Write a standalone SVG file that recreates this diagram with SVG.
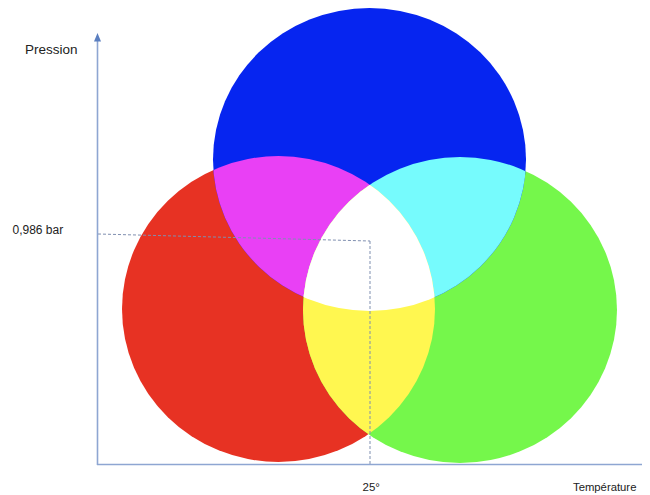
<svg xmlns="http://www.w3.org/2000/svg" width="650" height="495" viewBox="0 0 650 495">
<style>
.lbl{font-family:"Liberation Sans",Arial,sans-serif;fill:#222;}
.axis{stroke:#8EA6D2;stroke-width:1.6;fill:none;}
.dash{stroke:#7F8FB0;stroke-width:1;stroke-dasharray:3,2;fill:none;}
</style>
<defs>
<clipPath id="cRed"><ellipse cx="278.5" cy="309" rx="156.5" ry="153"/></clipPath>
<clipPath id="cGreen"><ellipse cx="460" cy="310" rx="157" ry="153"/></clipPath>
<clipPath id="cBlue"><ellipse cx="369.5" cy="159.5" rx="156.5" ry="151.5"/></clipPath>
</defs>
<rect width="650" height="495" fill="#fff"/>
<g id="circles">
<g id="red"><ellipse cx="278.5" cy="309" rx="156.5" ry="153" fill="#E73223"/></g>
<g id="green"><ellipse cx="460" cy="310" rx="157" ry="153" fill="#75F74B"/></g>
<g id="blue"><ellipse cx="369.5" cy="159.5" rx="156.5" ry="151.5" fill="#0625F0"/></g>
<g id="magenta" clip-path="url(#cRed)"><ellipse cx="369.5" cy="159.5" rx="156.5" ry="151.5" fill="#E940F5"/></g>
<g id="cyan" clip-path="url(#cGreen)"><ellipse cx="369.5" cy="159.5" rx="156.5" ry="151.5" fill="#76FBFD"/></g>
<g id="yellow" clip-path="url(#cRed)"><ellipse cx="460" cy="310" rx="157" ry="153" fill="#FFF750"/></g>
<g id="white" clip-path="url(#cRed)"><g clip-path="url(#cGreen)"><ellipse cx="369.5" cy="159.5" rx="156.5" ry="151.5" fill="#FFFFFF"/></g></g>
</g>
<g id="connectors">
<line class="dash" x1="98" y1="234" x2="370" y2="241"/>
<line class="dash" x1="370" y1="241" x2="370" y2="464"/>
<line class="axis" x1="97" y1="464.5" x2="642" y2="464.5"/>
<line class="axis" x1="97.5" y1="465" x2="97.5" y2="40"/>
<polygon points="97.5,33 101,41.5 94,41.5" fill="#5B7FC0"/>
</g>
<g id="labels">
<text class="lbl" x="25" y="54" font-size="13.5">Pression</text>
<text class="lbl" x="12.5" y="234" font-size="12">0,986 bar</text>
<text class="lbl" x="362.5" y="491" font-size="11.5">25°</text>
<text class="lbl" x="573" y="490.5" font-size="11.3">Température</text>
</g>
</svg>
